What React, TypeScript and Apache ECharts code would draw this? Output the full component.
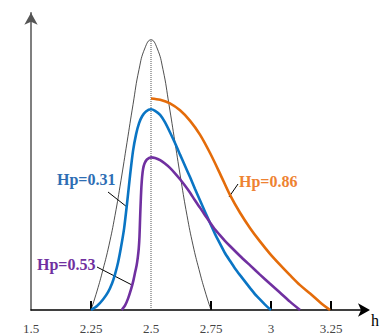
import React, { useEffect, useRef } from "react";
import * as echarts from "echarts";

// Axis ticks / labels
const tickValues = [2, 2.25, 2.5, 2.75, 3, 3.25];
const tickLabels = ["1.5", "2.25", "2.5", "2.75", "3", "3.25"];
const tickMarks = [2.25, 2.75, 3, 3.25];

// Reference normal-like curve (thin black)
const normalX = [2.25, 2.275, 2.3, 2.325, 2.35, 2.375, 2.4, 2.425, 2.45, 2.475, 2.5, 2.525, 2.55, 2.575, 2.6, 2.625, 2.65, 2.675, 2.7, 2.725, 2.75];
const normalY = [0, 0.07, 0.15, 0.24, 0.35, 0.48, 0.62, 0.76, 0.89, 0.97, 1, 0.97, 0.89, 0.76, 0.62, 0.48, 0.35, 0.24, 0.15, 0.07, 0];

// Hp = 0.31 (blue)
const hp031X = [2.25, 2.275, 2.3, 2.321, 2.338, 2.35, 2.363, 2.375, 2.388, 2.4, 2.413, 2.425, 2.438, 2.45, 2.463, 2.479, 2.5, 2.517, 2.538, 2.558, 2.579, 2.6, 2.621, 2.642, 2.663, 2.683, 2.704, 2.725, 2.746, 2.767, 2.788, 2.808, 2.829, 2.85, 2.871, 2.892, 2.913, 2.933, 2.954, 2.975, 3.0];
const hp031Y = [0, 0.015, 0.039, 0.066, 0.099, 0.132, 0.177, 0.232, 0.302, 0.393, 0.5, 0.588, 0.651, 0.691, 0.717, 0.735, 0.743, 0.737, 0.722, 0.695, 0.658, 0.618, 0.575, 0.533, 0.491, 0.449, 0.406, 0.364, 0.322, 0.281, 0.245, 0.211, 0.182, 0.154, 0.129, 0.105, 0.081, 0.059, 0.039, 0.02, 0];

// Hp = 0.53 (purple)
const hp053X = [2.378, 2.392, 2.405, 2.417, 2.426, 2.433, 2.44, 2.445, 2.449, 2.452, 2.454, 2.456, 2.458, 2.46, 2.463, 2.467, 2.473, 2.483, 2.5, 2.517, 2.538, 2.558, 2.579, 2.6, 2.621, 2.642, 2.663, 2.683, 2.704, 2.725, 2.746, 2.767, 2.788, 2.808, 2.829, 2.871, 2.913, 2.954, 2.996, 3.038, 3.079, 3.121];
const hp053Y = [0, 0.017, 0.044, 0.077, 0.107, 0.136, 0.165, 0.195, 0.228, 0.272, 0.324, 0.375, 0.419, 0.456, 0.493, 0.522, 0.542, 0.557, 0.565, 0.563, 0.555, 0.542, 0.526, 0.506, 0.484, 0.46, 0.434, 0.406, 0.379, 0.351, 0.324, 0.298, 0.276, 0.256, 0.237, 0.2, 0.165, 0.131, 0.097, 0.064, 0.031, 0];

// Hp = 0.86 (orange)
const hp086X = [2.5, 2.538, 2.579, 2.621, 2.663, 2.704, 2.746, 2.788, 2.829, 2.871, 2.913, 2.954, 2.996, 3.038, 3.079, 3.121, 3.163, 3.204, 3.246];
const hp086Y = [0.783, 0.778, 0.765, 0.739, 0.7, 0.649, 0.581, 0.504, 0.426, 0.36, 0.303, 0.254, 0.208, 0.167, 0.129, 0.092, 0.061, 0.029, 0];

// Vertical reference at 2.5
const refX = [2.5, 2.5];
const refY = [0, 1];

const zip = (xs: number[], ys: number[]) => xs.map((x, i) => [x, ys[i]]);

const SERIF = "'Liberation Serif', 'Times New Roman', 'DejaVu Serif', serif";

export default function App() {
  const ref = useRef<HTMLDivElement>(null);

  useEffect(() => {
    if (!ref.current) return;
    const chart = echarts.init(ref.current, undefined, { renderer: "svg" });
    const labelMap: Record<string, string> = {};
    tickValues.forEach((v, i) => (labelMap[String(v)] = tickLabels[i]));

    chart.setOption({
      animation: false,
      backgroundColor: "#ffffff",
      grid: { left: 31, right: 15, top: 12.8, bottom: 23, containLabel: false },
      xAxis: {
        type: "value",
        min: 2,
        max: 3.4,
        interval: 0.25,
        axisLine: {
          show: true,
          onZero: false,
          symbol: ["none", "arrow"],
          symbolSize: [10, 12],
          symbolOffset: [0, 3],
          lineStyle: { color: "#000", width: 1.5 },
        },
        axisTick: {
          show: true,
          inside: true,
          length: 9,
          customValues: tickMarks,
          lineStyle: { color: "#000", width: 2 },
        },
        axisLabel: {
          show: true,
          customValues: tickValues,
          margin: 12,
          fontFamily: SERIF,
          fontSize: 13,
          color: "#444",
          formatter: (v: number) => labelMap[String(v)] ?? "",
        },
        splitLine: { show: false },
      },
      yAxis: {
        type: "value",
        min: 0,
        max: 1.1,
        axisLine: {
          show: true,
          symbol: ["none", "arrow"],
          symbolSize: [10, 12],
          symbolOffset: [0, 0],
          lineStyle: { color: "#555", width: 1.5 },
        },
        axisTick: { show: false },
        axisLabel: { show: false },
        splitLine: { show: false },
      },
      series: [
        {
          type: "line",
          data: zip(refX, refY),
          symbol: "none",
          lineStyle: { color: "#555", width: 1, type: "dotted" },
          silent: true,
        },
        {
          type: "line",
          data: zip(normalX, normalY),
          symbol: "none",
          smooth: true,
          lineStyle: { color: "#222", width: 0.8 },
          silent: true,
        },
        {
          type: "line",
          name: "Hp=0.31",
          data: zip(hp031X, hp031Y),
          symbol: "none",
          smooth: 0.2,
          lineStyle: { color: "#0A75C4", width: 2.6 },
        },
        {
          type: "line",
          name: "Hp=0.53",
          data: zip(hp053X, hp053Y),
          symbol: "none",
          smooth: 0.2,
          lineStyle: { color: "#7030A0", width: 2.6 },
        },
        {
          type: "line",
          name: "Hp=0.86",
          data: zip(hp086X, hp086Y),
          symbol: "none",
          smooth: 0.3,
          lineStyle: { color: "#E46C0A", width: 2.6 },
        },
      ],
      graphic: [
        {
          type: "text",
          x: 57,
          y: 179,
          style: { text: "Hp=0.31", font: `bold 16px ${SERIF}`, fill: "#2E6EB4", textVerticalAlign: "middle" },
        },
        { type: "line", shape: { x1: 108, y1: 192, x2: 127, y2: 207 }, style: { stroke: "#000", lineWidth: 1 } },
        {
          type: "text",
          x: 37,
          y: 264,
          style: { text: "Hp=0.53", font: `bold 16px ${SERIF}`, fill: "#7030A0", textVerticalAlign: "middle" },
        },
        { type: "line", shape: { x1: 97, y1: 267, x2: 132, y2: 285 }, style: { stroke: "#000", lineWidth: 1 } },
        {
          type: "text",
          x: 239,
          y: 181,
          style: { text: "Hp=0.86", font: `bold 16px ${SERIF}`, fill: "#EE8232", textVerticalAlign: "middle" },
        },
        { type: "line", shape: { x1: 238, y1: 184, x2: 229, y2: 197 }, style: { stroke: "#000", lineWidth: 1 } },
        {
          type: "text",
          x: 371,
          y: 320,
          style: { text: "h", font: `16px ${SERIF}`, fill: "#000", textVerticalAlign: "middle" },
        },
      ],
    });
    return () => chart.dispose();
  }, []);

  return <div ref={ref} style={{ position: "absolute", left: 0, top: 0, width: 382, height: 335 }} />;
}
